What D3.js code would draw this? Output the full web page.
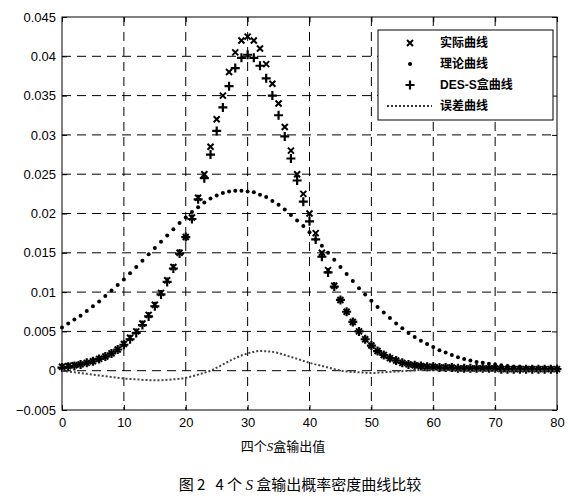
<!DOCTYPE html>
<html><head><meta charset="utf-8">
<script src="https://cdn.jsdelivr.net/npm/d3@7"></script>
<style>body{margin:0;background:#fff} text{white-space:pre}</style>
</head><body>
<svg id="chart" width="570" height="500"></svg>
<script>
const xTicks = [0, 10, 20, 30, 40, 50, 60, 70, 80];
const yTicks = [-0.005, 0, 0.005, 0.01, 0.015, 0.02, 0.025, 0.03, 0.035, 0.04, 0.045];
const tail = [.0032,.0025,.002,.0016,.0013,.001,.0008,.0007,.0006,.0005,
  .0005,.0004,.0004,.0004,.0003,.0003,.0003,.0003,.0003,.0003,
  .0003,.0002,.0002,.0002,.0002,.0002,.0002,.0002,.0002,.0002,.0002];
const actual = [.0005,.0006,.0007,.0008,.001,.0012,.0015,.0018,.0022,.0027,
  .0034,.0042,.005,.006,.0071,.0084,.0099,.0115,.0132,.015,
  .017,.0195,.022,.025,.0285,.032,.035,.038,.0405,.042,
  .0425,.042,.041,.039,.0365,.034,.031,.028,.025,.0225,
  .02,.0175,.015,.0128,.0108,.009,.0075,.0062,.005,.004].concat(tail);
const desS = [.0004,.0005,.0006,.0008,.001,.0012,.0015,.0018,.0022,.0027,
  .0033,.004,.0048,.0058,.0069,.0082,.0097,.0113,.013,.0149,
  .017,.0193,.0218,.0245,.0275,.0305,.0335,.0362,.0385,.0398,
  .0402,.0398,.0388,.0372,.035,.0325,.0298,.027,.0242,.0215,
  .019,.0167,.0145,.0125,.0107,.009,.0075,.0062,.005,.004].concat(tail);
const theory = [.0055,.006,.0065,.007,.0076,.0082,.0088,.0095,.0102,.0109,
  .0116,.0124,.0132,.014,.0148,.0156,.0164,.0172,.018,.0188,
  .0195,.0202,.0208,.0214,.0219,.0223,.0226,.0228,.0229,.0229,
  .0228,.0227,.0224,.0221,.0216,.0211,.0205,.0198,.0191,.0184,
  .0176,.0167,.0159,.015,.0141,.0132,.0123,.0114,.0105,.0097,
  .0089,.0081,.0074,.0067,.006,.0054,.0048,.0043,.0038,.0034,
  .003,.0026,.0023,.002,.0017,.0015,.0013,.0011,.001,.0009,
  .0008,.0007,.0006,.0005,.0005,.0004,.0004,.0003,.0003,.0003,.0003];
const errX = [0,2,4,6,8,10,12,14,16,18,20,22,24,26,28,30,32,34,36,38,40,42,44,46,48,50,52,54,56,58,60,65,70,75,80];
const errY = [0,-.0002,-.0004,-.0006,-.0008,-.001,-.0011,-.0012,-.0012,-.0011,-.0009,-.0005,0,.0008,.0016,.0022,.0025,.0024,.002,.0015,.001,.0006,.0002,-.0001,-.0002,-.0003,-.0002,-.0001,0,.0001,.0001,0,0,0,0];
const legendLabels = ["实际曲线", "理论曲线", "DES-S盒曲线", "误差曲线"];

const svg = d3.select("#chart");
const m = {l: 62, r: 557, t: 17, b: 410};
const x = d3.scaleLinear().domain([0, 80]).range([m.l, m.r]);
const y = d3.scaleLinear().domain([-0.005, 0.045]).range([m.b, m.t]);
const font = "Arial, 'Liberation Sans', sans-serif";

// grid
const g = svg.append("g").attr("stroke", "#000").attr("stroke-dasharray", "9,6").attr("stroke-width", 1);
xTicks.slice(1, -1).forEach(t => g.append("line").attr("x1", x(t)).attr("x2", x(t)).attr("y1", m.t).attr("y2", m.b));
yTicks.slice(1, -1).forEach(t => g.append("line").attr("y1", y(t)).attr("y2", y(t)).attr("x1", m.l).attr("x2", m.r));

// axes
const xa = svg.append("g").attr("transform", `translate(0,${m.b})`)
  .call(d3.axisBottom(x).tickValues(xTicks).tickSizeInner(-5).tickSizeOuter(0).tickPadding(8));
const xt = svg.append("g").attr("transform", `translate(0,${m.t})`)
  .call(d3.axisTop(x).tickValues(xTicks).tickSizeInner(-5).tickSizeOuter(0).tickFormat(""));
const ya = svg.append("g").attr("transform", `translate(${m.l},0)`)
  .call(d3.axisLeft(y).tickValues(yTicks).tickSizeInner(-5).tickSizeOuter(0).tickPadding(6).tickFormat(d => d3.format("")(+d.toFixed(3))));
const yr = svg.append("g").attr("transform", `translate(${m.r},0)`)
  .call(d3.axisRight(y).tickValues(yTicks).tickSizeInner(-5).tickSizeOuter(0).tickFormat(""));
[xa, xt, ya, yr].forEach(a => {
  a.selectAll("path").remove();
  a.selectAll("text").attr("font-family", font).attr("font-size", 13).attr("fill", "#000");
});
svg.append("rect").attr("x", m.l).attr("y", m.t).attr("width", m.r - m.l).attr("height", m.b - m.t)
  .attr("fill", "none").attr("stroke", "#000");

// series
const idx = d3.range(81);
const cross = "M-3,-3L3,3M-3,3L3,-3";
const plus = "M-4.5,0L4.5,0M0,-4.5L0,4.5";
svg.append("g").selectAll("path").data(idx).join("path")
  .attr("transform", i => `translate(${x(i)},${y(desS[i])})`).attr("d", plus)
  .attr("stroke", "#000").attr("stroke-width", 2.2);
svg.append("g").selectAll("path").data(idx).join("path")
  .attr("transform", i => `translate(${x(i)},${y(actual[i])})`).attr("d", cross)
  .attr("stroke", "#000").attr("stroke-width", 2);
svg.append("g").selectAll("circle").data(idx).join("circle")
  .attr("cx", i => x(i)).attr("cy", i => y(theory[i])).attr("r", 2).attr("fill", "#000");
svg.append("path").datum(errX.map((v, i) => [v, errY[i]]))
  .attr("d", d3.line().x(d => x(d[0])).y(d => y(d[1])).curve(d3.curveMonotoneX))
  .attr("fill", "none").attr("stroke", "#444").attr("stroke-width", 2).attr("stroke-dasharray", "2,2");

// legend
const lg = svg.append("g");
lg.append("rect").attr("x", 378).attr("y", 30).attr("width", 175).attr("height", 90).attr("fill", "#fff").attr("stroke", "#000");
legendLabels.forEach((t, i) => {
  const ly = 43 + i * 21;
  const cx = 410;
  if (i === 0) lg.append("path").attr("transform", `translate(${cx},${ly})`).attr("d", cross).attr("stroke", "#000").attr("stroke-width", 2);
  if (i === 1) lg.append("circle").attr("cx", cx).attr("cy", ly).attr("r", 2);
  if (i === 2) lg.append("path").attr("transform", `translate(${cx},${ly})`).attr("d", plus).attr("stroke", "#000").attr("stroke-width", 2.2);
  if (i === 3) lg.append("line").attr("x1", 387).attr("x2", 432).attr("y1", ly).attr("y2", ly)
    .attr("stroke", "#333").attr("stroke-width", 2).attr("stroke-dasharray", "2,2");
  lg.append("text").attr("x", 440).attr("y", ly + 4).text(t)
    .attr("font-family", font + ", 'Noto Sans CJK SC'").attr("font-size", 12).attr("font-weight", "bold");
});

// labels
const xl = svg.append("text").attr("x", 283).attr("y", 451).attr("text-anchor", "middle")
  .attr("font-family", "'Noto Sans CJK SC', sans-serif").attr("font-size", 13);
xl.append("tspan").text("四个");
xl.append("tspan").text("S").attr("font-style", "italic").attr("font-family", "'Liberation Serif', serif");
xl.append("tspan").text("盒输出值");
const tl = svg.append("text").attr("x", 300).attr("y", 490).attr("text-anchor", "middle")
  .attr("font-family", "'Noto Sans CJK SC', sans-serif").attr("font-size", 15);
tl.append("tspan").text("图 2   4 个 ");
tl.append("tspan").text("S").attr("font-style", "italic").attr("font-family", "'Liberation Serif', serif");
tl.append("tspan").text(" 盒输出概率密度曲线比较");
</script>
</body></html>
